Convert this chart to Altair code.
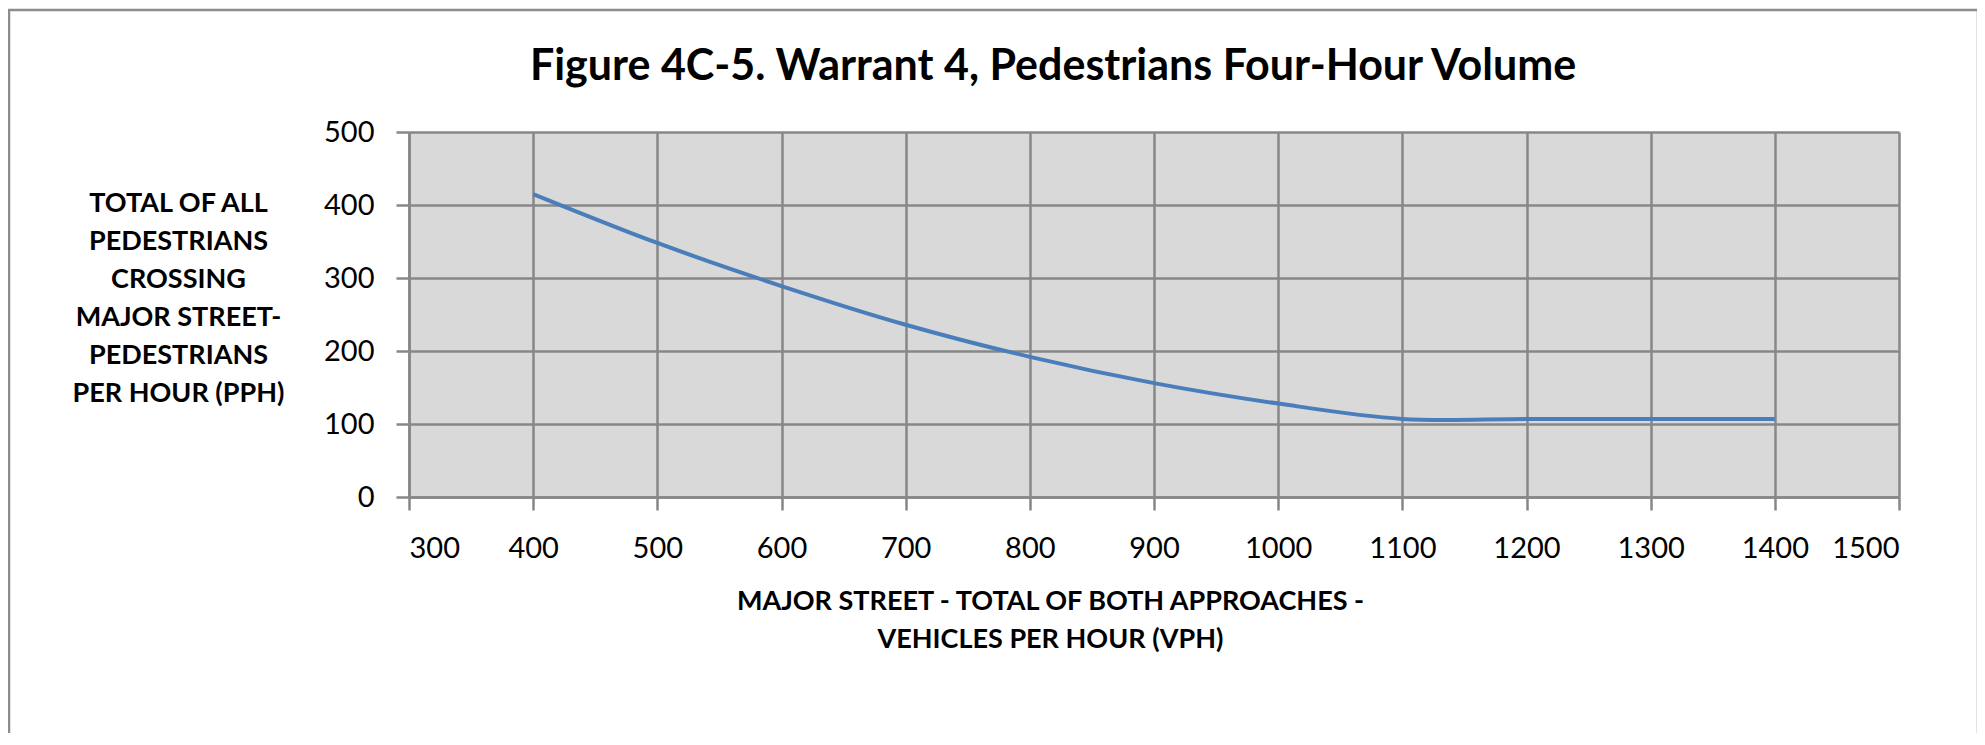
import altair as alt
import pandas as pd

# Warrant 4 curve
vph = [400, 500, 600, 700, 800, 900, 1000, 1100, 1200, 1300, 1400]
pph = [415, 348, 289, 236, 192, 156, 128, 107, 107, 107, 107]

x_ticks = [300, 400, 500, 600, 700, 800, 900, 1000, 1100, 1200, 1300, 1400, 1500]
y_ticks = [0, 100, 200, 300, 400, 500]

TITLE = "Figure 4C-5. Warrant 4, Pedestrians Four-Hour Volume"
X_TITLE = ["MAJOR STREET - TOTAL OF BOTH APPROACHES -", "VEHICLES PER HOUR (VPH)"]
Y_TITLE = ["TOTAL OF ALL", "PEDESTRIANS", "CROSSING", "MAJOR STREET-",
           "PEDESTRIANS", "PER HOUR (PPH)"]

FONT = "Lato"
GRID = "#878787"
LINE_BLUE = "#4a7ebb"

df = pd.DataFrame({"vph": vph, "pph": pph})

x_enc = alt.X(
    "vph:Q",
    scale=alt.Scale(domain=[300, 1500], nice=False, zero=False),
    axis=alt.Axis(
        values=x_ticks, format="d", title=X_TITLE, titleX=641, titleY=91,
        titleAngle=0, titleAlign="center", titleBaseline="top",
        titleLineHeight=38, labelPadding=24,
    ),
)
y_enc = alt.Y(
    "pph:Q",
    scale=alt.Scale(domain=[0, 500], nice=False),
    axis=alt.Axis(
        values=y_ticks, format="d", title=Y_TITLE, titleX=-231, titleY=58,
        titleAngle=0, titleAlign="center", titleBaseline="top",
        titleLineHeight=38, labelPadding=22,
    ),
)

curve = alt.Chart(df).mark_line(
    color=LINE_BLUE, strokeWidth=4, interpolate="catmull-rom"
).encode(x=x_enc, y=y_enc)

# grey outer frame of the chart area
frame = alt.Chart(pd.DataFrame({"k": [0]})).mark_rect(
    filled=False, stroke="#8c8c8c", strokeWidth=2.5
).encode(
    x=alt.value(-400), x2=alt.value(1569), y=alt.value(-122), y2=alt.value(700)
)

chart = (frame + curve).properties(
    width=1490,
    height=365,
    background="white",
    autosize=alt.AutoSizeParams(type="none"),
    padding={"left": 401, "top": 124, "right": 78, "bottom": 236},
    title=alt.Title(
        TITLE, font=FONT, fontSize=43, fontWeight="bold", color="black",
        anchor="middle", dx=-101, offset=-80,
    ),
).configure_view(
    fill="#d9d9d9", stroke=None,
).configure_axis(
    labelFont=FONT, labelFontSize=29, labelColor="black",
    titleFont=FONT, titleFontSize=27, titleFontWeight="bold", titleColor="black",
    gridColor=GRID, gridWidth=2.5, gridOpacity=1,
    domainColor=GRID, domainWidth=2.5,
    tickColor=GRID, tickWidth=2.5, tickSize=13,
)

chart.save("out.html", embed_options={"renderer": "svg", "actions": False})
